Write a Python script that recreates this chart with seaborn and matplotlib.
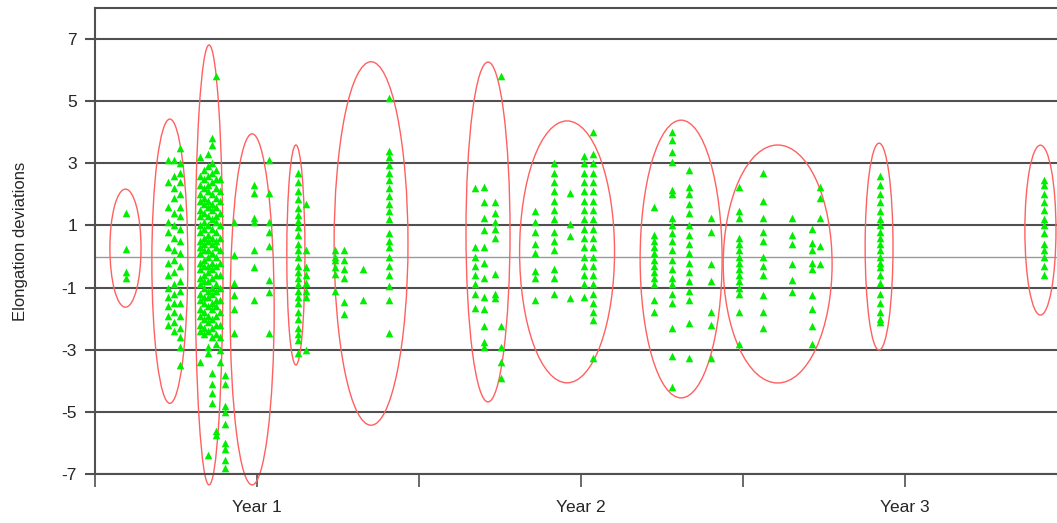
import matplotlib
matplotlib.use("Agg")
import matplotlib.pyplot as plt
from matplotlib.patches import Ellipse
import pandas as pd
import seaborn as sns

# ---- data (x in years, y in deviations) ----
x_c1 = [0.596]
y_c1 = [[1.4, 0.25, -0.5, -0.7]]

x_c2 = [0.725, 0.744, 0.762]
y_c2 = [
    [3.1, 2.4, 1.6, 1.1, 0.8, 0.3, -0.2, -0.6, -1.0, -1.3, -1.6, -1.9, -2.2],
    [3.1, 2.6, 2.2, 1.9, 1.4, 1.0, 0.6, 0.2, -0.1, -0.5, -0.9, -1.2, -1.5, -1.8, -2.1, -2.4],
    [3.5, 3.0, 2.7, 2.4, 2.0, 1.6, 1.3, 0.9, 0.5, 0.1, -0.3, -0.8, -1.1, -1.5, -1.9, -2.3,
     -2.6, -2.9, -3.5],
]

x_c3 = [0.824, 0.836, 0.849, 0.861, 0.873, 0.886, 0.9]
y_c3 = [
    [3.2, 2.6, 2.3, 2.0, 1.8, 1.5, 1.3, 1.0, 0.8, 0.5, 0.3, 0.1, -0.2, -0.4, -0.7, -0.9,
     -1.2, -1.4, -1.7, -1.9, -2.2, -2.4, -3.4],
    [2.8, 2.5, 2.2, 1.9, 1.7, 1.4, 1.1, 0.9, 0.6, 0.4, 0.2, -0.1, -0.3, -0.6, -0.8, -1.0,
     -1.3, -1.5, -1.8, -2.0, -2.3, -2.5],
    [3.3, 2.9, 2.6, 2.3, 2.1, 1.8, 1.6, 1.3, 1.0, 0.7, 0.5, 0.2, 0.0, -0.3, -0.5, -0.8,
     -1.1, -1.3, -1.6, -1.9, -2.1, -2.4, -2.9, -3.1, -6.4],
    [3.8, 3.6, 3.0, 2.7, 2.4, 2.0, 1.7, 1.5, 1.2, 0.9, 0.6, 0.4, 0.1, -0.2, -0.4, -0.7,
     -1.0, -1.2, -1.5, -1.7, -2.0, -2.3, -2.6, -3.75, -4.1, -4.4, -4.7],
    [5.8, 2.8, 2.5, 2.2, 1.9, 1.6, 1.3, 1.1, 0.8, 0.5, 0.3, 0.0, -0.3, -0.6, -0.9, -1.1,
     -1.4, -1.6, -1.9, -2.2, -2.5, -2.8, -5.6, -5.75],
    [2.5, 2.1, 1.8, 1.4, 1.0, 0.6, 0.2, -0.2, -0.6, -1.0, -1.4, -1.8, -2.2, -2.6, -3.0, -3.4],
    [-3.8, -4.1, -4.8, -5.0, -5.4, -6.0, -6.2, -6.55, -6.8],
]

x_c4 = [0.929, 0.991, 1.037]
y_c4 = [
    [1.1, 0.05, -0.85, -1.25, -1.7, -2.45],
    [2.3, 2.05, 1.25, 1.1, 0.2, -0.35, -1.4],
    [3.1, 2.05, 1.1, 0.8, 0.35, -0.75, -1.15, -2.45],
]

x_c5 = [1.126, 1.151]
y_c5 = [
    [2.7, 2.4, 2.1, 1.85, 1.55, 1.35, 1.15, 0.95, 0.7, 0.4, 0.2, 0.0, -0.3, -0.5, -0.7,
     -0.9, -1.1, -1.3, -1.5, -1.8, -2.0, -2.3, -2.5, -2.7, -3.1],
    [1.7, 0.2, -0.35, -0.6, -0.85, -1.1, -1.3, -3.0],
]

x_c6 = [1.241, 1.269, 1.327, 1.407]
y_c6 = [
    [0.2, 0.0, -0.1, -0.35, -0.55, -1.1],
    [0.2, -0.1, -0.4, -0.7, -1.45, -1.85],
    [-0.4, -1.4],
    [5.1, 3.4, 3.2, 2.95, 2.7, 2.45, 2.2, 1.95, 1.7, 1.45, 1.2, 0.75, 0.5, 0.3, 0.0, -0.3,
     -0.6, -0.95, -1.4, -2.45],
]

x_c7 = [1.673, 1.701, 1.735, 1.753]
y_c7 = [
    [2.2, 0.3, 0.0, -0.3, -0.6, -0.9, -1.2, -1.65],
    [2.25, 1.75, 1.25, 0.85, 0.3, -0.2, -0.7, -1.3, -1.7, -2.25, -2.75, -2.9],
    [1.75, 1.4, 1.1, 0.9, 0.6, -0.55, -1.2, -1.35],
    [5.8, -2.25, -2.9, -3.4, -3.9],
]

x_c8 = [1.858, 1.917, 1.966, 2.009, 2.037]
y_c8 = [
    [1.45, 1.1, 0.8, 0.4, 0.1, -0.45, -0.7, -1.4],
    [3.0, 2.7, 2.4, 2.1, 1.8, 1.5, 1.2, 0.8, 0.5, 0.2, -0.4, -0.7, -1.2],
    [2.05, 1.05, 0.65, -1.35],
    [3.25, 3.0, 2.7, 2.4, 2.1, 1.8, 1.5, 1.2, 0.9, 0.6, 0.3, 0.0, -0.3, -0.6, -0.9, -1.3],
    [4.0, 3.3, 3.0, 2.7, 2.4, 2.1, 1.8, 1.5, 1.2, 0.9, 0.6, 0.3, 0.0, -0.3, -0.6, -0.9,
     -1.2, -1.5, -1.8, -2.05, -3.25],
]

x_c9 = [2.225, 2.281, 2.333, 2.401]
y_c9 = [
    [1.6, 0.7, 0.5, 0.3, 0.1, -0.1, -0.3, -0.5, -0.7, -0.9, -1.4, -1.8],
    [4.0, 3.75, 3.35, 3.05, 2.15, 2.0, 1.25, 1.0, 0.75, 0.5, 0.2, -0.1, -0.4, -0.7, -0.9,
     -1.2, -1.5, -2.3, -3.2, -4.2],
    [2.8, 2.25, 2.0, 1.7, 1.4, 1.0, 0.7, 0.4, 0.1, -0.2, -0.5, -0.8, -1.1, -1.4, -2.15, -3.25],
    [1.25, 0.8, -0.25, -0.8, -1.8, -2.2, -3.25],
]

x_c10 = [2.488, 2.562, 2.651, 2.713, 2.738]
y_c10 = [
    [2.25, 1.45, 1.25, 0.6, 0.4, 0.2, 0.0, -0.2, -0.4, -0.6, -0.8, -1.0, -1.2, -1.8, -2.8],
    [2.7, 1.8, 1.25, 0.8, 0.5, 0.0, -0.3, -0.6, -1.25, -1.8, -2.3],
    [1.25, 0.7, 0.4, -0.25, -0.75, -1.15],
    [0.9, 0.45, 0.2, -0.2, -0.4, -1.25, -1.7, -2.25, -2.8],
    [2.25, 1.9, 1.25, 0.35, -0.25],
]

x_c11 = [2.923]
y_c11 = [[2.6, 2.3, 2.0, 1.75, 1.45, 1.2, 1.0, 0.8, 0.6, 0.4, 0.2, 0.0, -0.2, -0.35, -0.6,
          -0.85, -1.2, -1.5, -1.8, -2.0, -2.1]]

x_c12 = [3.429]
y_c12 = [[2.45, 2.3, 2.0, 1.75, 1.5, 1.2, 1.0, 0.75, 0.4, 0.2, 0.0, -0.3, -0.6]]

# ellipses around each group: centre x, centre y, width (years), height
ell_x = [0.594, 0.731, 0.852, 0.985, 1.120, 1.352, 1.713, 1.957, 2.309, 2.607, 2.920, 3.418]
ell_y = [0.27, -0.15, -0.27, -1.70, 0.05, 0.42, 0.79, 0.15, -0.08, -0.24, 0.32, 0.85]
ell_w = [0.096, 0.111, 0.086, 0.136, 0.056, 0.228, 0.136, 0.293, 0.253, 0.336, 0.086, 0.096]
ell_h = [3.8, 9.15, 14.16, 11.3, 7.08, 11.7, 10.94, 8.43, 8.94, 7.66, 6.66, 5.47]

year_ticks = [0.5, 1.0, 1.5, 2.0, 2.5, 3.0]
year_labels = ["", "Year 1", "", "Year 2", "", "Year 3"]
y_ticks = [7, 5, 3, 1, -1, -3, -5, -7]

# ---- build a long table ----
rows = []
groups = [(x_c1, y_c1), (x_c2, y_c2), (x_c3, y_c3), (x_c4, y_c4), (x_c5, y_c5),
          (x_c6, y_c6), (x_c7, y_c7), (x_c8, y_c8), (x_c9, y_c9), (x_c10, y_c10),
          (x_c11, y_c11), (x_c12, y_c12)]
for xs, ys in groups:
    for xv, col in zip(xs, ys):
        for yv in col:
            rows.append((xv, yv))
df = pd.DataFrame(rows, columns=["year", "deviation"])

sns.set_style("white")
plt.rcParams["font.family"] = ["Liberation Sans", "DejaVu Sans"]

fig = plt.figure(figsize=(10.57, 5.23), dpi=100)
ax = fig.add_axes([95 / 1057, 49 / 523, 962 / 1057, 466 / 523])

grid_col = "#505050"
for yv in y_ticks:
    ax.axhline(yv, color=grid_col, lw=1.5, zorder=1)
ax.axhline(0, color="#9a9a9a", lw=1.0, zorder=1)

for cx, cy, w, h in zip(ell_x, ell_y, ell_w, ell_h):
    ax.add_patch(Ellipse((cx, cy), w, h, fill=False, edgecolor="#ff6060",
                         lw=1.0, zorder=2, clip_on=False))

sns.scatterplot(data=df, x="year", y="deviation", marker="^", color="#00ee00",
                s=30, linewidth=0, ax=ax, zorder=3)

ax.set_xlim(0.5, 0.5 + 962 / 324)
ax.set_ylim(-7, 8)
ax.set_xticks(year_ticks)
ax.set_xticklabels(year_labels)
ax.set_yticks(y_ticks)
ax.set_yticklabels([str(v) for v in y_ticks])
ax.tick_params(axis="y", direction="out", length=7, width=1.5, color=grid_col,
               labelsize=12.5, pad=6, left=True)
ax.tick_params(axis="x", direction="out", length=9, width=1.2, color=grid_col,
               labelsize=12.5, pad=10, bottom=True)
ax.set_xlabel("")
ax.set_ylabel("Elongation deviations", fontsize=12, labelpad=24)

for side in ["top", "left", "bottom"]:
    ax.spines[side].set_color(grid_col)
    ax.spines[side].set_linewidth(1.5)
ax.spines["right"].set_visible(False)

fig.savefig("out.png", dpi=100)
